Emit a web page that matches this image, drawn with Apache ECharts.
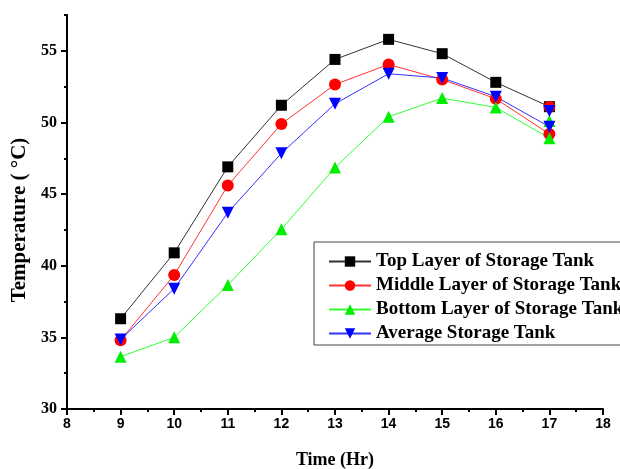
<!DOCTYPE html>
<html>
<head>
<meta charset="utf-8">
<script src="https://cdn.jsdelivr.net/npm/echarts@6/dist/echarts.min.js"></script>
<style>html,body{margin:0;padding:0;background:#fff;}#c{width:620px;height:469px;}</style>
</head>
<body>
<div id="c"></div>
<script>
// ---- data ----
const hours = [9, 10, 11, 12, 13, 14, 15, 16, 17];
const topLayer    = [36.3, 40.9, 46.9, 51.2, 54.4, 55.8, 54.8, 52.8, 51.1];
const middleLayer = [34.8, 39.35, 45.6, 49.9, 52.65, 54.05, 53.0, 51.65, 49.2];
const bottomLayer = [33.65, 35.0, 38.65, 42.55, 46.85, 50.4, 51.7, 51.05, 48.9];
const averageTank = [34.85, 38.4, 43.7, 47.85, 51.3, 53.4, 53.1, 51.8, 49.7];
// second reading recorded at 17 h
const repeatHour = 17;
const middleRepeat = 51.1;
const bottomRepeat = 50.1;
const averageRepeat = 50.8;
const seriesNames = ['Top Layer of Storage Tank', 'Middle Layer of Storage Tank', 'Bottom Layer of Storage Tank', 'Average Storage Tank'];
const yMajorTicks = [30, 35, 40, 45, 50, 55];
const yMinorTicks = [32.5, 37.5, 42.5, 47.5, 52.5, 57.5];

function pairs(vals, extra) {
  const d = hours.map((h, i) => [h, vals[i]]);
  if (extra !== undefined) { d.push([repeatHour, null]); d.push([repeatHour, extra]); }
  return d;
}

const chart = echarts.init(document.getElementById('c'), null, {renderer: 'canvas'});
const serif = '"Liberation Serif", "Times New Roman", serif';
const sans = '"Liberation Sans", Arial, sans-serif';

function lineSeries(name, data, color, lineColor, symbol, size, rotate) {
  return {
    name: name, type: 'line', data: data,
    symbol: symbol, symbolSize: size, symbolRotate: rotate || 0,
    connectNulls: false,
    itemStyle: {color: color},
    lineStyle: {color: lineColor, width: 1},
    emphasis: {disabled: true},
    animation: false
  };
}

chart.setOption({
  backgroundColor: '#fff',
  animation: false,
  grid: {left: 67, right: 17, top: 15, bottom: 60, outerBoundsMode: 'none', containLabel: false},
  legend: {
    left: 314, top: 242,
    orient: 'vertical',
    data: seriesNames,
    itemWidth: 42, itemHeight: 13, itemGap: 5,
    padding: [10, 10, 2, 14],
    borderColor: '#444', borderWidth: 1,
    backgroundColor: '#fff',
    textStyle: {fontFamily: serif, fontWeight: 'bold', fontSize: 19, color: '#000'}
  },
  xAxis: {
    type: 'value', min: 8, max: 18, interval: 1,
    name: 'Time (Hr)', nameLocation: 'middle', nameGap: 42,
    nameTextStyle: {fontFamily: serif, fontWeight: 'bold', fontSize: 18, color: '#000'},
    axisLine: {show: true, onZero: false, lineStyle: {color: '#000', width: 2}},
    axisTick: {show: true, inside: false, length: 6, lineStyle: {color: '#000', width: 2}},
    minorTick: {show: true, splitNumber: 2, length: 3, lineStyle: {color: '#000', width: 2}},
    axisLabel: {margin: 8, fontFamily: sans, fontWeight: 'bold', fontSize: 14, color: '#000'},
    splitLine: {show: false}
  },
  yAxis: [{
    type: 'value', min: 30, max: 57.5, interval: 5,
    name: 'Temperature ( °C)', nameLocation: 'middle', nameGap: 35,
    nameTextStyle: {fontFamily: serif, fontWeight: 'bold', fontSize: 21, color: '#000', padding: [0, 16, 0, 0]},
    axisLine: {show: true, onZero: false, lineStyle: {color: '#000', width: 2}},
    axisTick: {show: true, inside: false, length: 6, customValues: yMajorTicks, lineStyle: {color: '#000', width: 2}},
    axisLabel: {margin: 10, customValues: yMajorTicks, fontFamily: serif, fontWeight: 'bold', fontSize: 16, color: '#000'},
    splitLine: {show: false}
  }, {
    type: 'value', min: 30, max: 57.5, position: 'left', offset: 0,
    axisLine: {show: false},
    axisTick: {show: true, inside: false, length: 3, customValues: yMinorTicks, lineStyle: {color: '#000', width: 2}},
    axisLabel: {show: false},
    splitLine: {show: false}
  }],
  series: [
    lineSeries(seriesNames[0], pairs(topLayer), '#000', '#333', 'rect', 11),
    lineSeries(seriesNames[1], pairs(middleLayer, middleRepeat), '#ff0000', '#ff3333', 'circle', 12),
    lineSeries(seriesNames[2], pairs(bottomLayer, bottomRepeat), '#00ee00', '#33ff33', 'triangle', 12),
    lineSeries(seriesNames[3], pairs(averageTank, averageRepeat), '#0000ff', '#3333ff', 'triangle', 12, 180)
  ]
});
</script>
</body>
</html>
